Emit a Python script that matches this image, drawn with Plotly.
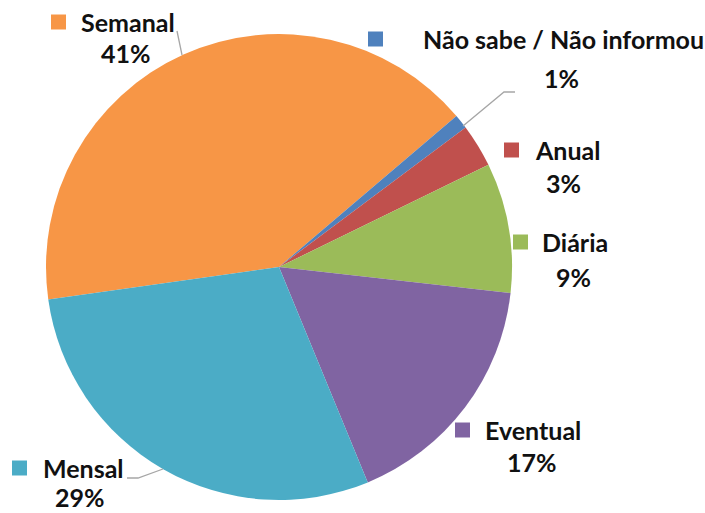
import plotly.graph_objects as go

W, H = 705, 513

categories = ["Semanal", "Não sabe / Não informou", "Anual", "Diária", "Eventual", "Mensal"]
values = [41, 1, 3, 9, 17, 29]
colors = ["#F79646", "#4F81BD", "#C0504D", "#9BBB59", "#8064A2", "#4BACC6"]

# label layout (pixel positions): square left x, square center y, text left x, pct center x, pct center y
label_pos = {
    "Semanal": (51, 22, 79, 126, 53),
    "Não sabe / Não informou": (368, 39, 421, 561, 78),
    "Anual": (504, 150, 533, 563, 183),
    "Diária": (513, 242, 540, 573, 277),
    "Eventual": (455, 430, 483, 532, 462),
    "Mensal": (12, 468, 41, 80, 497),
}

def px(x):
    return x / W

def py(y):
    return 1 - y / H

FONT = "Lato, 'Open Sans', sans-serif"
FS = 25

fig = go.Figure(go.Pie(
    labels=categories,
    values=values,
    sort=False,
    direction="clockwise",
    rotation=-98,
    marker=dict(colors=colors, line=dict(width=0)),
    textinfo="none",
    hoverinfo="label+percent",
    domain=dict(x=[px(46), px(512)], y=[py(500), py(34)]),
    showlegend=False,
))

shapes = []
annotations = []
for cat, val, col in zip(categories, values, colors):
    sx, sy, tx, pcx, pcy = label_pos[cat]
    shapes.append(dict(type="rect", xref="paper", yref="paper",
                       x0=px(sx), x1=px(sx + 15), y0=py(sy + 7.5), y1=py(sy - 7.5),
                       fillcolor=col, line=dict(width=0)))
    annotations.append(dict(x=px(tx), y=py(sy), xref="paper", yref="paper",
                            text=f"<b>{cat}</b>", showarrow=False,
                            xanchor="left", yanchor="middle",
                            font=dict(family=FONT, size=FS, color="#111111")))
    annotations.append(dict(x=px(pcx), y=py(pcy), xref="paper", yref="paper",
                            text=f"<b>{val}%</b>", showarrow=False,
                            xanchor="center", yanchor="middle",
                            font=dict(family=FONT, size=FS, color="#111111")))

# leader lines
leaders = [
    [(177, 31), (182, 55)],
    [(515, 92), (504, 92), (463, 126)],
    [(127, 478), (138, 478), (163, 469)],
]
for pts in leaders:
    path = "M " + " L ".join(f"{px(x)},{py(y)}" for x, y in pts)
    shapes.append(dict(type="path", xref="paper", yref="paper", path=path,
                       line=dict(color="#A6A6A6", width=1.3)))

fig.update_layout(
    width=W, height=H,
    margin=dict(l=0, r=0, t=0, b=0),
    paper_bgcolor="white", plot_bgcolor="white",
    shapes=shapes, annotations=annotations,
)

fig.write_html("out.html", config={"displayModeBar": False},
               post_script="document.body.style.margin='0';document.body.style.overflow='hidden';")
